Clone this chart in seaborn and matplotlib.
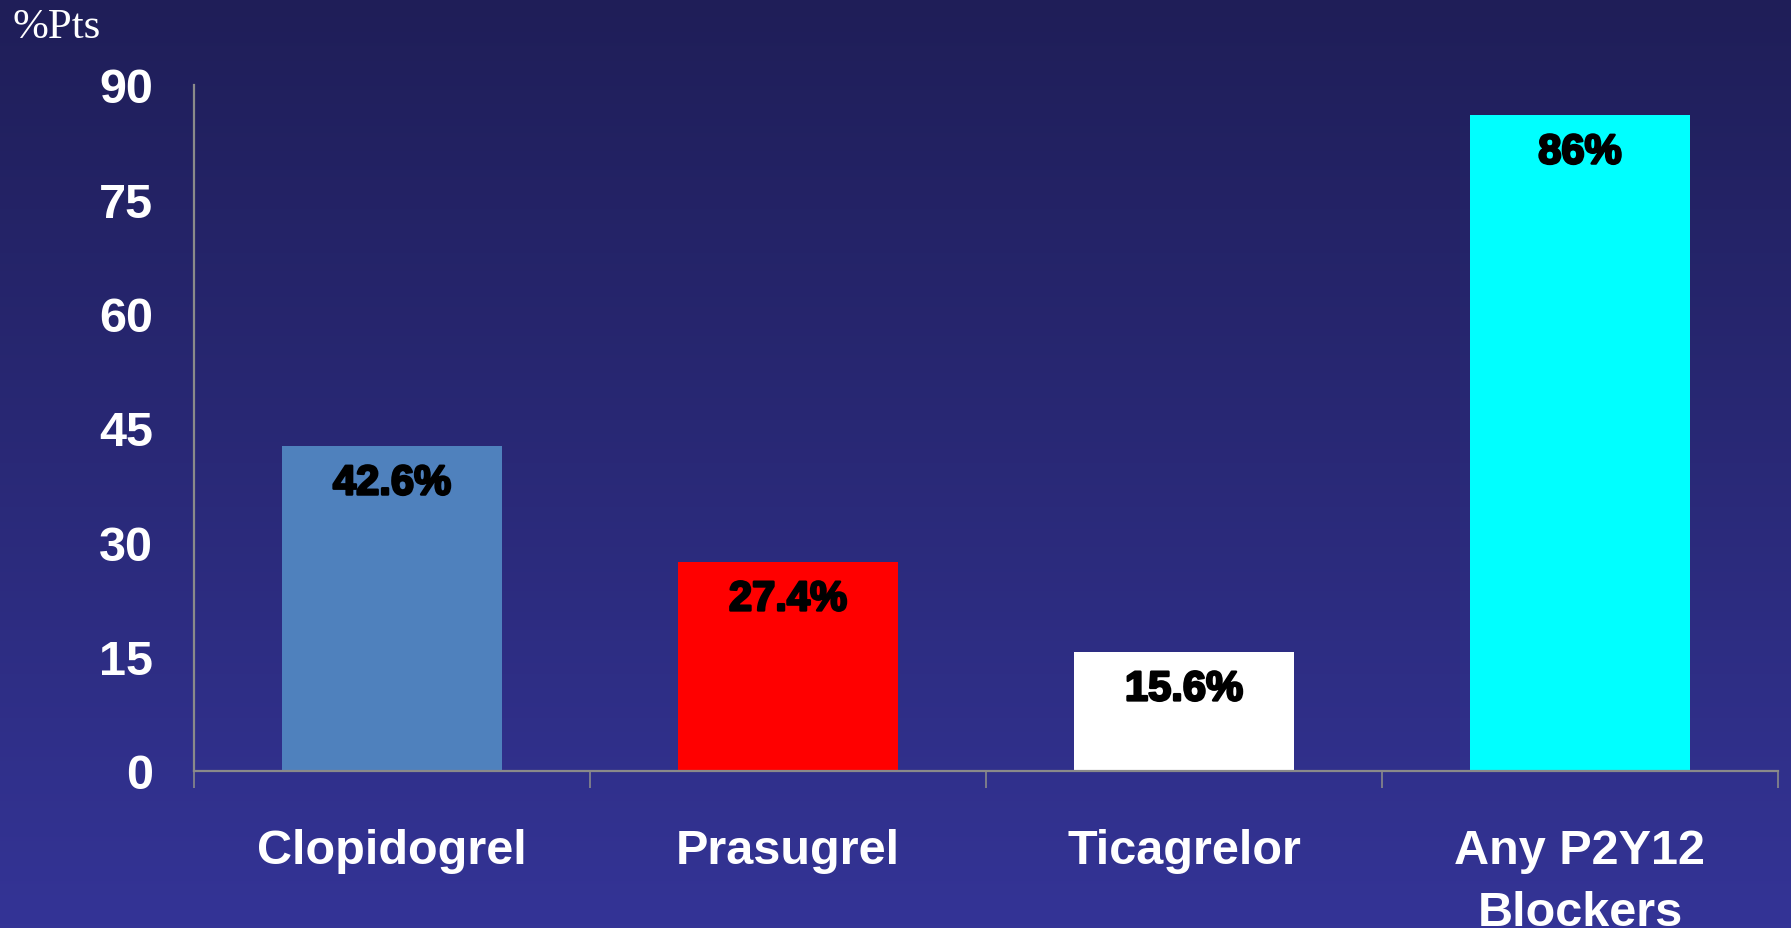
import numpy as np
import matplotlib
matplotlib.use("Agg")
import matplotlib.pyplot as plt
import matplotlib.patheffects as pe
from matplotlib.ticker import FixedLocator
import seaborn as sns

# Share of patients on each P2Y12 inhibitor
categories = ["Clopidogrel", "Prasugrel", "Ticagrelor", "Any P2Y12\nBlockers"]
values = [42.6, 27.4, 15.6, 86.0]
value_labels = ["42.6%", "27.4%", "15.6%", "86%"]
bar_colors = ["#4F81BD", "#FF0000", "#FFFFFF", "#00FFFF"]
y_ticks = [0, 15, 30, 45, 60, 75, 90]

sns.set_theme(style="white")
plt.rcParams["font.family"] = ["Liberation Sans", "DejaVu Sans"]

fig = plt.figure(figsize=(17.91, 9.29), dpi=100)

# Vertical navy gradient behind everything
bg = fig.add_axes([0, 0, 1, 1], zorder=-10)
top = np.array([31, 30, 88]) / 255
bottom = np.array([52, 52, 150]) / 255
t = np.linspace(0, 1, 256)[:, None]
grad = (top[None, :] * (1 - t) + bottom[None, :] * t)[:, None, :]
bg.imshow(grad, aspect="auto", extent=[0, 1, 0, 1], origin="upper")
bg.set_axis_off()

ax = fig.add_axes([0.1083, 0.169, 0.8844, 0.7388])
ax.set_facecolor("none")

sns.barplot(x=categories, y=values, hue=categories, palette=bar_colors,
            legend=False, width=0.555, saturation=1, linewidth=0, ax=ax)

ax.set_xlim(-0.5, 3.5)
ax.set_ylim(0, 90)
ax.set_xlabel("")
ax.set_ylabel("")

grey = "#8A8A8A"
for side in ("top", "right"):
    ax.spines[side].set_visible(False)
for side in ("left", "bottom"):
    ax.spines[side].set_color(grey)
    ax.spines[side].set_linewidth(1.6)

ax.yaxis.set_major_locator(FixedLocator(y_ticks))
ax.set_yticklabels([str(v) for v in y_ticks])
ax.tick_params(axis="y", which="major", direction="out", length=11.5,
               width=1.2, color=grey, pad=18, labelsize=35, labelcolor="white")

ax.set_xticks(range(len(categories)))
ax.set_xticklabels(categories)
ax.set_xticks(np.arange(-0.5, len(categories), 1.0), minor=True)
ax.tick_params(axis="x", which="major", length=0, pad=41, labelsize=35,
               labelcolor="white")
ax.tick_params(axis="x", which="minor", direction="out", length=12,
               width=1.2, color=grey, bottom=True)
for lbl in ax.get_xticklabels() + ax.get_yticklabels():
    lbl.set_fontweight("bold")
for lbl in ax.get_xticklabels():
    lbl.set_linespacing(1.5)

# Value labels just inside the top of each bar
for patch, text in zip(ax.patches, value_labels):
    cx = patch.get_x() + patch.get_width() / 2
    h = patch.get_height()
    ax.annotate(text, (cx, h), xytext=(0, -12.5), textcoords="offset points",
                ha="center", va="top", fontsize=30, fontweight="bold",
                color="black",
                path_effects=[pe.withStroke(linewidth=1.8, foreground="black")])

fig.text(13 / 1791, 1 - 38 / 929, "%Pts", fontsize=31, color="white",
         family=["Liberation Serif", "DejaVu Serif"], ha="left", va="baseline")

fig.savefig("out.png", dpi=100)
